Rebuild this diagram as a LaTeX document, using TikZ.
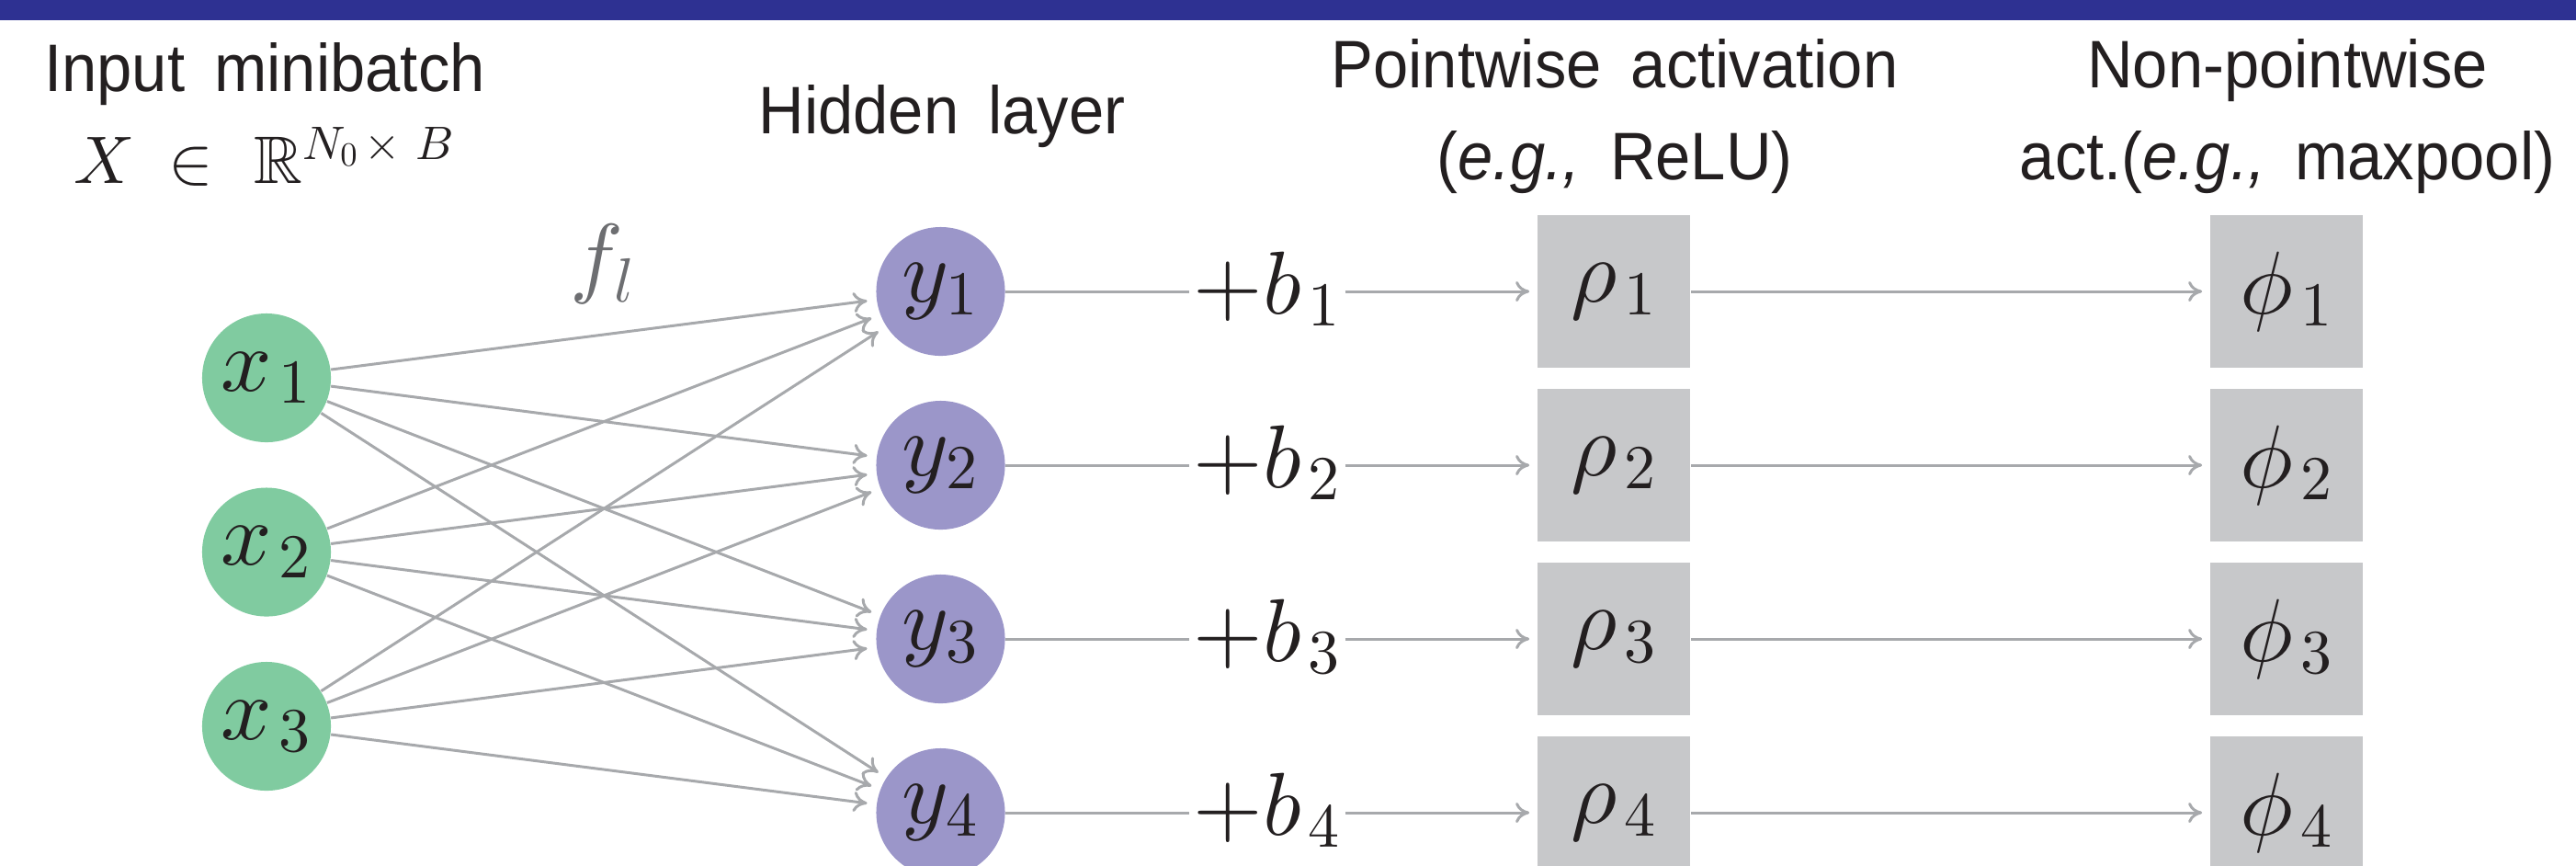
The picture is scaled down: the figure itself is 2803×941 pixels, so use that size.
\documentclass[tikz,border=0pt]{standalone}
\usepackage[no-math]{fontspec}
\usepackage{amssymb}
\usetikzlibrary{arrows.meta}
\newfontfamily\headfont{Liberation Sans}[FakeStretch=0.94]

% math letters and digits from the 10pt design size at every size
\DeclareFontFamily{OML}{cmmten}{\skewchar\font'177}
\DeclareFontShape{OML}{cmmten}{m}{it}{<->cmmi10}{}
\DeclareSymbolFont{letters}{OML}{cmmten}{m}{it}
\DeclareFontFamily{OT1}{cmrten}{\hyphenchar\font45}
\DeclareFontShape{OT1}{cmrten}{m}{n}{<->cmr10}{}
\DeclareSymbolFont{operators}{OT1}{cmrten}{m}{n}

\definecolor{barblue}{HTML}{2E3192}
\definecolor{ingreen}{HTML}{80CBA0}
\definecolor{hidpurple}{HTML}{9B96C9}
\definecolor{boxgray}{HTML}{C7C8CA}
\definecolor{edgegray}{HTML}{A7A9AC}
\definecolor{labelgray}{HTML}{6D6E71}
\definecolor{inkblack}{HTML}{231F20}

% subscript set slightly apart from its base letter
\newcommand{\sub}[1]{_{\mkern2mu #1}}

\begin{document}
\begin{tikzpicture}[x=0.01cm, y=-0.01cm,
  every node/.style={text=inkblack},
  heading/.style={font={\headfont\fontsize{20.8}{28.45}\selectfont\spaceskip=0.44em\relax},
                  align=center, anchor=base, inner sep=0pt},
  nodemath/.style={font=\fontsize{27.6}{33}\selectfont},
  incircle/.style={circle, fill=ingreen, minimum size=1.4cm, inner sep=0pt, nodemath},
  hidcircle/.style={circle, fill=hidpurple, minimum size=1.4cm, inner sep=0pt, nodemath},
  actbox/.style={rectangle, fill=boxgray, minimum size=1.66cm, inner sep=0pt, nodemath},
  biasnode/.style={inner sep=1pt, text height=20.7pt, text depth=6.9pt, nodemath},
  link/.style={draw=edgegray, line width=0.85pt},
  arrowlink/.style={link, -{To[length=4.3pt,width=6.3pt]}, shorten >=2.3pt},
]
\clip (0,0) rectangle (2803,941);

% title bar
\fill[barblue] (0,0) rectangle (2803,21.7);

% column headings (anchored at the baseline of their last line)
\node[heading] (hin)  at (288,199.5)
  {Input minibatch\\ $X\mskip4mu\in\mskip6mu\mathbb{R}^{N_0\mskip2mu\times\mskip6mu B}$};
\node[heading] (hhid) at (1025,145.7) {Hidden layer};
\node[heading] (hpw)  at (1757,195.2) {Pointwise activation\\(\textit{e.g.,} ReLU)};
\node[heading] (hnpw) at (2489,195.2) {Non-pointwise\\act.(\textit{e.g.,} maxpool)};

% input units
\foreach \i/\yy in {1/411,2/600.5,3/790}
  \node[incircle] (x\i) at (290,\yy) {$x\sub{\i}$};

% one row per hidden unit: unit, bias, pointwise and non-pointwise activation
\foreach \j/\yy in {1/317,2/506,3/695,4/884} {
  \node[hidcircle] (y\j) at (1023.5,\yy) {$y_\j$};
  \node[biasnode]  (b\j) at (1379,\yy)   {$+b\sub{\j}$};
  \node[actbox]    (r\j) at (1756,\yy)   {$\rho\sub{\j}$};
  \node[actbox]    (p\j) at (2488,\yy)   {$\phi\sub{\j}$};
}

% layer map label
\node[nodemath, text=labelgray, anchor=base] (fl) at (656,311) {$f_l$};

% fully connected weights
\foreach \i in {1,2,3}
  \foreach \j in {1,...,4}
    \draw[arrowlink, shorten >=2.8pt] (x\i) -- (y\j);

% row connectors
\foreach \j in {1,...,4} {
  \draw[link] (y\j) -- (b\j);
  \draw[arrowlink] (b\j) -- (r\j);
  \draw[arrowlink] (r\j) -- (p\j);
}
\end{tikzpicture}
\end{document}
